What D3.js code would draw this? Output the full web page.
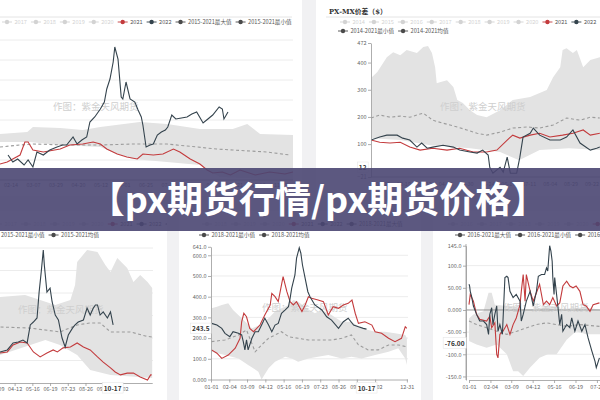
<!DOCTYPE html>
<meta charset="utf-8">
<html>
<style>
  body { margin: 0; background: #fff; }
  svg { display: block; font-family: "Noto Sans CJK SC", "Noto Sans", sans-serif; }
</style>
<body>
<svg width="600" height="400"></svg>
<script src="https://d3js.org/d3.v7.min.js"></script>
<script>

// ---- top-left chart (no y labels visible) ----
var aHi = [[0,230],[34,240],[41,265],[75,260],[103,250],[125,265],[174,290],[208,280],[249,255],[290,255],[308,280],[324,230],[365,225]];
var aLo = [[0,190],[37,190],[75,175],[125,165],[146,130],[166,105],[208,90],[249,75],[274,15],[365,0]];
var aMean = [[0,165],[25,175],[41,180],[83,175],[125,175],[166,180],[208,180],[233,170],[270,155],[290,150],[332,140],[361,125]];
var a2021 = [[0,80],[9,90],[25,125],[31,190],[35,190],[41,150],[54,140],[75,155],[87,175],[103,180],[116,190],[125,180],[133,155],[146,130],[158,115],[171,105],[178,130],[191,125],[203,130],[216,155],[224,140],[237,105],[249,80],[258,50],[265,35],[277,40],[287,25],[299,50],[318,25],[336,40],[355,30],[365,40]];
var a2022 = [[10,125],[16,90],[22,105],[30,75],[35,100],[41,65],[46,140],[54,125],[62,150],[71,165],[78,175],[83,175],[91,215],[96,180],[102,200],[108,215],[112,290],[118,315],[125,355],[130,390],[133,455],[137,505],[141,590],[143,665],[147,605],[151,415],[153,405],[157,490],[162,405],[168,390],[172,350],[176,315],[178,275],[182,165],[187,175],[191,180],[196,225],[201,240],[206,250],[209,265],[214,325],[219,305],[226,310],[233,315],[239,330],[245,340],[253,285],[259,305],[265,325],[273,365],[277,355],[279,305],[284,340]];
var aGrid = [100, 200, 300, 400, 500, 600, 700];
var aTickLabels = ["02-14","03-07","03-29","04-20","05-12","06-01","06-25","07-17","08-08","08-31","09-21","10-17","11-12"];
var aLegend = ["2017","2018","2019","2020","2021","2022","2015-2021最大值","2015-2021最小值"];

// ---- PX-MX spread ----
var bHi = [[1,346],[8,365],[20,420],[28,438],[37,427],[45,446],[58,435],[66,457],[72,461],[77,435],[81,383],[83,324],[87,328],[96,335],[104,310],[109,262],[116,251],[125,225],[134,207],[146,199],[163,225],[179,262],[201,273],[213,288],[222,299],[230,346],[239,383],[242,446],[247,453],[255,435],[260,446],[268,383],[277,409],[289,420],[320,420]];
var bLo = [[1,122],[37,115],[75,96],[125,85],[163,71],[187,41],[213,78],[250,85],[289,78],[320,78]];
var bMean = [[0,196],[11,207],[24,199],[37,203],[49,199],[66,214],[78,188],[91,177],[109,163],[121,152],[134,140],[146,133],[163,144],[179,159],[197,163],[213,159],[230,170],[247,196],[264,188],[277,199],[289,196]];
var b2021 = [[0,115],[11,107],[24,104],[37,107],[49,89],[62,78],[78,85],[96,78],[112,85],[129,71],[146,71],[159,78],[172,115],[179,133],[188,122],[201,133],[213,140],[226,126],[242,133],[255,140],[268,152],[277,133],[289,140]];
var b2022 = [[0,115],[11,126],[20,133],[33,133],[40,122],[49,115],[58,89],[64,104],[71,85],[78,89],[91,96],[104,89],[112,78],[125,71],[134,67],[141,78],[148,60],[150,15],[154,-7],[163,15],[167,-3],[172,52],[176,-7],[184,-7],[188,52],[192,126],[201,140],[205,159],[213,133],[226,115],[239,115],[247,126],[255,152],[264,104],[277,78],[285,85],[289,89]];
var bTicks = [472, 400, 300, 200, 100, -21];
var bTickLabels = ["01-29","02-19","03-12","04-06","04-30","05-24","06-17","07-11","08-04","08-29","09-22"];
var bLegend1 = ["2014","2015","2016","2017","2018","2019","2020","2021","2022"];
var bLegend2 = ["2014-2021最小值","2014-2021均值"];

// ---- bottom-left chart ----
var cHi = [[0,380],[73,382],[121,391],[150,369],[179,347],[208,369],[217,436],[221,538],[240,591],[260,582],[275,524],[285,493],[298,556],[317,511],[329,449],[342,480],[356,449],[365,422]];
var cLo = [[0,124],[73,124],[131,169],[160,191],[188,169],[221,124],[246,58],[285,36],[365,22]];
var cMean = [[0,250],[73,249],[131,244],[188,227],[221,258],[246,267],[265,267],[285,227],[323,227],[352,209],[365,204]];
var c2021 = [[60,130],[73,133],[87,138],[98,169],[112,182],[125,178],[137,138],[150,116],[163,133],[175,147],[183,138],[194,156],[208,160],[221,178],[233,160],[246,147],[260,116],[271,93],[285,67],[294,49],[304,36],[317,44],[329,44],[342,27],[356,13],[362,36],[364,36]];
var c2022 = [[60,135],[73,138],[87,147],[98,178],[108,182],[117,191],[125,178],[131,258],[137,271],[144,289],[148,404],[152,493],[156,591],[158,524],[163,404],[169,422],[173,360],[179,302],[185,280],[192,200],[198,160],[204,213],[212,244],[217,258],[223,271],[233,280],[240,333],[246,302],[252,333],[256,347],[260,347],[265,302],[271,316],[279,289],[285,316],[290,258]];
var cGrid = [100, 200, 300, 400, 500, 600];
var cDates = ["03-09","04-12","05-16","06-19","07-23","08-26","09-29","11-02"];
var cLegend1 = ["2017","2018","2019","2020","2021","2022","2015-2021最大值"];
var cLegend2 = ["2015-2021最小值","2015-2021均值"];

// ---- bottom-middle chart ----
var dHi = [[1,344],[11,352],[20,360],[32,368],[41,336],[57,296],[76,247],[91,263],[107,296],[119,328],[131,344],[144,360],[153,384],[162,376],[178,344],[193,320],[206,336],[224,312],[243,279],[261,279],[280,247],[305,231],[323,231],[342,223],[361,215],[364,199]];
var dLo = [[1,134],[26,118],[51,102],[69,70],[88,38],[94,0],[107,54],[119,86],[138,110],[150,102],[162,86],[181,102],[199,110],[218,118],[243,102],[261,110],[280,102],[305,118],[330,134],[348,151],[361,102],[364,70]];
var dMean = [[1,183],[26,191],[51,215],[66,239],[82,134],[94,167],[107,199],[119,215],[131,231],[144,207],[162,199],[181,191],[206,191],[224,191],[243,199],[261,215],[274,167],[292,143],[311,143],[330,167],[348,167],[364,158]];
var d2021 = [[1,143],[11,127],[20,102],[32,118],[45,151],[54,199],[57,279],[61,320],[66,303],[72,247],[79,231],[85,247],[91,263],[100,312],[110,360],[113,416],[119,400],[125,376],[131,457],[134,497],[141,424],[147,376],[153,360],[159,376],[169,328],[175,360],[181,400],[187,392],[199,384],[209,376],[218,312],[227,352],[237,344],[246,360],[255,368],[262,384],[268,320],[274,271],[286,279],[299,263],[305,231],[317,223],[330,199],[342,183],[354,199],[361,255],[364,247]];
var d2022 = [[1,271],[11,263],[20,247],[26,223],[35,207],[41,231],[51,223],[57,215],[60,183],[63,143],[66,191],[69,143],[76,199],[82,231],[88,231],[94,263],[100,296],[107,263],[113,231],[119,263],[125,271],[131,320],[138,336],[144,352],[147,392],[150,441],[156,505],[159,586],[164,636],[167,610],[170,553],[175,489],[180,424],[184,400],[193,360],[206,336],[215,303],[224,287],[237,247],[246,279],[255,296],[265,263],[274,255],[283,247],[289,243.5]];
var dTicks = [641, 600, 500, 400, 300, 200, 100, 0];
var dTickText = ["641.0","600.0","500.0","400.0","300.0","200.0","100.0","0.000"];
var dDates = ["01-01","02-04","03-09","04-12","05-16","06-19","07-23","08-26","09-29","11-02","12-31"];
var dLegend1 = ["2018","2019","2020","2021","2022","2018-2021最大值"];
var dLegend2 = ["2018-2021最小值","2018-2021均值"];

// ---- bottom-right chart ----
var eHi = [[0,-19],[7,-10],[23,-3],[31,39],[36,39],[41,12],[60,9],[70,9],[81,1],[97,1],[112,5],[133,9],[149,1],[165,5],[186,5],[207,1],[260,5]];
var eLo = [[0,-70],[12,-78],[28,-85],[44,-78],[60,-100],[70,-138],[78,-138],[86,-149],[97,-130],[112,-108],[125,-100],[139,-100],[155,-67],[170,-48],[186,-55],[207,-55],[260,-55]];
var eMean = [[0,-25],[12,-33],[28,-40],[44,-48],[60,-55],[76,-48],[92,-40],[107,-33],[123,-29],[139,-33],[155,-37],[176,-33],[207,-37]];
var e2021 = [[0,12],[2,35],[7,20],[12,-10],[17,-21],[28,-25],[33,-14],[36,-40],[41,-29],[44,-100],[46,-108],[49,-55],[54,-48],[60,-33],[65,-55],[70,-33],[75,-18],[81,12],[83,42],[86,80],[89,20],[91,80],[97,42],[102,20],[107,39],[112,58],[118,12],[123,20],[128,12],[133,28],[139,9],[144,16],[149,54],[155,65],[160,54],[165,50],[170,54],[176,42],[181,12],[186,9],[192,-3],[197,12],[207,16]];
var e2022 = [[0,58],[1,54],[2,42],[4,31],[7,9],[12,-10],[17,-25],[23,-25],[28,-33],[31,-55],[33,-10],[36,5],[38,-33],[41,-10],[44,9],[46,-48],[49,-33],[53,-55],[57,73],[60,76],[62,73],[65,42],[70,28],[75,35],[81,20],[83,-25],[86,-10],[91,20],[97,42],[102,9],[107,42],[110,76],[115,80],[120,80],[123,95],[125,88],[128,145],[130,133],[132,110],[133,73],[135,35],[136,73],[139,35],[141,9],[144,-33],[147,-10],[149,-48],[155,-33],[160,-40],[163,-18],[168,-48],[173,-25],[179,-48],[184,-33],[189,-63],[195,-93],[200,-116],[202,-130],[207,-108]];
var eTicks = [145, 100, 50, 0, -50, -100, -150];
var eTickText = ["145.0","100.0","50.00","0.000","-50.00","-100.0","-150.0"];
var eDates = ["01-01","02-04","03-09","04-12","05-16","06-19","07-23"];
var eLegend1 = ["2016","2017","2018","2019","2020","2021","2022"];
var eLegend2 = ["2016-2021最大值","2016-2021最小值","2016-2021均值"];

var RED = "#c33b3d", DARK = "#34434d", BAND = "#e3e3e3", MEAN = "#9c9c9c", GREY = "#d3d3d3";
var WATERMARK = "作图：紫金天风期货";

var svg = d3.select("svg");
var defs = svg.append("defs");
svg.append("rect").attr("width", 600).attr("height", 400).attr("fill", "#f1f1f3");

function dayOf(s) {
  var p = s.split("-");
  return d3.timeDay.count(new Date(2022, 0, 1), new Date(2022, +p[0] - 1, +p[1]));
}

function clip(id, r) {
  defs.append("clipPath").attr("id", id).append("rect")
    .attr("x", r[0]).attr("y", r[1]).attr("width", r[2]).attr("height", r[3]);
  return "url(#" + id + ")";
}

function colorOf(name) {
  if (name === "2021") return RED;
  if (name === "2022") return DARK;
  if (name.indexOf("-") > 0) return "#4a4a4a";
  return GREY;
}

function legend(g, names, x0, y) {
  var x = x0;
  names.forEach(function(name) {
    var c = colorOf(name);
    g.append("line").attr("x1", x).attr("x2", x + 10).attr("y1", y).attr("y2", y)
      .attr("stroke", c).attr("stroke-width", 0.9);
    g.append("circle").attr("cx", x + 5).attr("cy", y).attr("r", 2.2).attr("fill", c);
    var t = g.append("text").attr("x", x + 12.5).attr("y", y + 2).attr("font-size", 5.6)
      .attr("fill", c === GREY ? GREY : "#555").text(name);
    x += 12.5 + t.node().getComputedTextLength() + 4;
  });
}

function styleAxis(sel) {
  sel.selectAll(".domain").attr("stroke", "#999").attr("stroke-width", 0.8);
  sel.selectAll(".tick line").attr("stroke", "#999").attr("stroke-width", 0.8);
  sel.selectAll(".tick text").attr("font-size", 5.5).attr("fill", "#666").attr("font-family", "Noto Sans CJK SC");
}

// bold highlighted label with a white box behind it
function valueBox(g, x, y, txt, anchor) {
  var t = g.append("text").attr("x", x).attr("y", y).attr("dy", "0.35em")
    .attr("text-anchor", anchor).attr("font-size", 6.5).attr("font-weight", 700)
    .attr("fill", "#333").text(txt);
  var b = t.node().getBBox();
  g.insert("rect", function() { return t.node(); })
    .attr("x", b.x - 1.5).attr("y", b.y - 0.3).attr("width", b.width + 3).attr("height", b.height + 0.6)
    .attr("fill", "#fff").attr("stroke", "#e2e2e2").attr("stroke-width", 0.5);
}

function drawPanel(o) {
  var g = svg.append("g").attr("clip-path", clip(o.id + "box", o.box));
  g.append("rect").attr("x", o.box[0]).attr("y", o.box[1])
    .attr("width", o.box[2]).attr("height", o.box[3]).attr("fill", "#fff");
  var x = d3.scaleLinear().domain([0, 365]).range(o.xr);
  var y = d3.scaleLinear().domain(o.yd).range(o.yr);
  if (o.grid) {
    g.selectAll(null).data(o.grid).enter().append("line")
      .attr("x1", o.plot[0]).attr("x2", o.plot[0] + o.plot[2])
      .attr("y1", function(d) { return y(d); }).attr("y2", function(d) { return y(d); })
      .attr("stroke", "#ececec");
  }
  var pg = g.append("g").attr("clip-path", clip(o.id + "plot", o.plot));
  var line = d3.line().x(function(d) { return x(d[0]); }).y(function(d) { return y(d[1]); });
  pg.append("path").attr("d", line(o.hi.concat(o.lo.slice().reverse())) + "Z").attr("fill", BAND);
  if (o.zero) {
    pg.append("line").attr("x1", o.plot[0]).attr("x2", o.plot[0] + o.plot[2])
      .attr("y1", y(0)).attr("y2", y(0)).attr("stroke", "#8a8a8a").attr("stroke-width", 0.9);
  }
  pg.append("text").attr("x", o.wm[0]).attr("y", o.wm[1]).attr("font-size", 9.5)
    .attr("fill", "#cfcfcf").text(WATERMARK);
  pg.append("path").attr("d", line(o.mean)).attr("fill", "none").attr("stroke", MEAN)
    .attr("stroke-width", 1.1).attr("stroke-dasharray", "3,2.5");
  pg.append("path").attr("d", line(o.s21)).attr("fill", "none").attr("stroke", RED).attr("stroke-width", 1.1);
  pg.append("path").attr("d", line(o.s22)).attr("fill", "none").attr("stroke", DARK).attr("stroke-width", 1.1);
  return { g: g, x: x, y: y };
}

// ---- panel A ----
var A = drawPanel({ id: "a", box: [0, 0, 302, 196], plot: [0, 35, 293, 145], xr: [0, 293],
  yd: [0, 700], yr: [180, 40], grid: aGrid, wm: [53, 110],
  hi: aHi, lo: aLo, mean: aMean, s21: a2021, s22: a2022 });
A.g.append("line").attr("x1", 0).attr("x2", 292).attr("y1", 17).attr("y2", 17).attr("stroke", "#e4e4e4");
legend(A.g, aLegend, 2, 22);
A.g.append("line").attr("x1", 0).attr("x2", 293).attr("y1", 180).attr("y2", 180).attr("stroke", "#999").attr("stroke-width", 0.8);
var aPos = d3.scalePoint().domain(aTickLabels).range([11, 281]);
A.g.selectAll(null).data(aTickLabels).enter().append("text")
  .attr("x", function(t) { return aPos(t); }).attr("y", 187).attr("text-anchor", "middle")
  .attr("font-size", 5.5).attr("fill", "#666").text(function(t) { return t; });

// ---- panel B ----
var B = drawPanel({ id: "b", box: [316, 0, 284, 196], plot: [371, 40, 229, 137], xr: [371, 660],
  yd: [-21, 472], yr: [177, 43], grid: null, wm: [440, 110],
  hi: bHi, lo: bLo, mean: bMean, s21: b2021, s22: b2022 });
B.g.append("text").attr("x", 329).attr("y", 13.5).attr("font-size", 6.8).attr("font-weight", 700)
  .attr("font-family", "DejaVu Serif, Noto Sans CJK SC").attr("fill", "#333").text("PX-MX价差（$）");
B.g.append("line").attr("x1", 326).attr("x2", 600).attr("y1", 17).attr("y2", 17).attr("stroke", "#e4e4e4");
legend(B.g, bLegend1, 340, 22);
legend(B.g, bLegend2, 338, 31);
var bAxis = B.g.append("g").attr("transform", "translate(371,0)")
  .call(d3.axisLeft(B.y).tickValues(bTicks).tickSize(3).tickSizeOuter(0).tickPadding(1.5));
styleAxis(bAxis);
valueBox(B.g, 366.5, B.y(12), "12", "end");
B.g.append("line").attr("x1", 371).attr("x2", 600).attr("y1", B.y(-21)).attr("y2", B.y(-21)).attr("stroke", "#999").attr("stroke-width", 0.8);
var bPos = d3.scalePoint().domain(bTickLabels).range([383, 592]);
B.g.selectAll(null).data(bTickLabels).enter().append("text")
  .attr("x", function(t) { return bPos(t); }).attr("y", 186).attr("text-anchor", "middle")
  .attr("font-size", 5.5).attr("fill", "#666").text(function(t) { return t; });

// ---- panel C ----
var C = drawPanel({ id: "c", box: [0, 211, 167, 189], plot: [0, 243, 153, 140], xr: [-38, 152.2],
  yd: [0, 600], yr: [383, 248], grid: cGrid, wm: [18, 313],
  hi: cHi, lo: cLo, mean: cMean, s21: c2021, s22: c2022 });
legend(C.g, cLegend1, -8, 224);
legend(C.g, cLegend2, -11.5, 235);
var cAxis = C.g.append("g").attr("transform", "translate(0,383)")
  .call(d3.axisBottom(C.x).tickValues(cDates.map(dayOf)).tickFormat(function(v) { return cDates[cDates.map(dayOf).indexOf(v)]; })
    .tickSize(3).tickSizeOuter(0).tickPadding(1));
styleAxis(cAxis);
valueBox(C.g, C.x(dayOf("10-17")), 388.5, "10-17", "middle");

// ---- panel D ----
var D = drawPanel({ id: "d", box: [179, 211, 242, 189], plot: [211, 244, 197, 136], xr: [211, 407.4],
  yd: [0, 641], yr: [379.5, 246.8], grid: dTicks.slice(1, 7), wm: [262, 311],
  hi: dHi, lo: dLo, mean: dMean, s21: d2021, s22: d2022 });
legend(D.g, dLegend1, 202, 224);
legend(D.g, dLegend2, 199, 235);
var dAxisY = D.g.append("g").attr("transform", "translate(211,0)")
  .call(d3.axisLeft(D.y).tickValues(dTicks).tickFormat(function(v) { return dTickText[dTicks.indexOf(v)]; })
    .tickSize(3).tickSizeOuter(0).tickPadding(1.5));
styleAxis(dAxisY);
var dAxisX = D.g.append("g").attr("transform", "translate(0,379.5)")
  .call(d3.axisBottom(D.x).tickValues(dDates.map(dayOf)).tickFormat(function(v) { return dDates[dDates.map(dayOf).indexOf(v)]; })
    .tickSize(3).tickSizeOuter(0).tickPadding(2.5));
styleAxis(dAxisX);
valueBox(D.g, 209.5, D.y(243.5), "243.5", "end");
valueBox(D.g, D.x(dayOf("10-17")), 388.5, "10-17", "middle");

// ---- panel E ----
var E = drawPanel({ id: "e", box: [433, 211, 167, 189], plot: [466, 244, 134, 136], xr: [469, 699],
  yd: [-158, 145], yr: [380, 245.7], grid: [100, 50, -50, -100, -150], zero: true, wm: [503, 311],
  hi: eHi, lo: eLo, mean: eMean, s21: e2021, s22: e2022 });
legend(E.g, eLegend1, 448, 224);
legend(E.g, eLegend2, 455, 235);
var eAxisY = E.g.append("g").attr("transform", "translate(466,0)")
  .call(d3.axisLeft(E.y).tickValues(eTicks).tickFormat(function(v) { return eTickText[eTicks.indexOf(v)]; })
    .tickSize(3).tickSizeOuter(0).tickPadding(1.5));
styleAxis(eAxisY);
var eAxisX = E.g.append("g").attr("transform", "translate(0,380)")
  .call(d3.axisBottom(E.x).tickValues(eDates.map(dayOf)).tickFormat(function(v) { return eDates[eDates.map(dayOf).indexOf(v)]; })
    .tickSize(3).tickSizeOuter(0).tickPadding(2.5));
styleAxis(eAxisX);
E.g.append("line").attr("x1", 466).attr("x2", 466).attr("y1", 244).attr("y2", 380).attr("stroke", "#999").attr("stroke-width", 0.8);
valueBox(E.g, 464.5, E.y(-76), "-76.00", "end");

// ---- banner across the middle ----
svg.append("rect").attr("x", 0).attr("y", 168).attr("width", 600).attr("height", 63)
  .attr("fill", "#4a4672").attr("opacity", 0.9);
svg.append("text").attr("x", 318).attr("y", 213).attr("text-anchor", "middle")
  .attr("font-size", 36).attr("font-weight", 700).attr("fill", "#fff")
  .text("【px期货行情/px期货价格】");

</script>
</body>
</html>
